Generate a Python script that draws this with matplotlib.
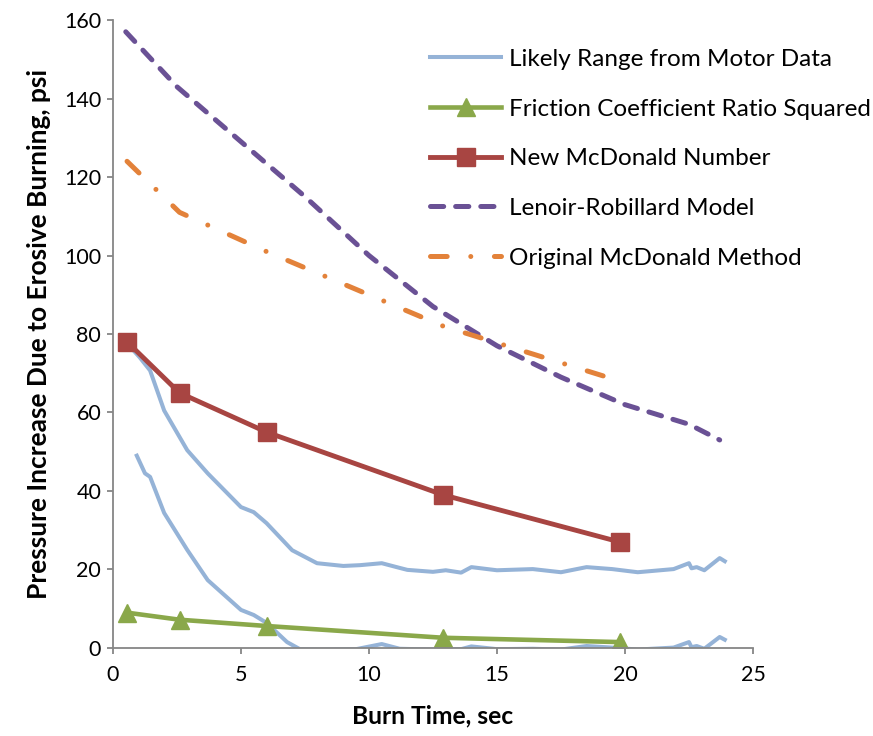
import matplotlib
matplotlib.use("Agg")
import matplotlib.pyplot as plt

plt.rcParams['font.family'] = ['Lato', 'DejaVu Sans']
plt.rcParams['lines.scale_dashes'] = False

# Likely range from motor data (upper and lower bounds)
upper_t = [0.5, 1.05, 1.45, 2.0, 2.9, 3.7, 5.0, 5.5, 6.0, 7.0, 7.97, 9.0, 9.65, 10.5, 11.2,
           11.5, 12.5, 13.0, 13.6, 14.0, 15.0, 16.4, 17.5, 18.5, 19.5, 20.5, 21.9,
           22.5, 22.6, 22.8, 23.1, 23.7, 23.9]
upper_p = [78, 74, 70.7, 60.5, 50.4, 44.5, 35.9, 34.6, 31.8, 24.9, 21.6, 20.9, 21.1, 21.6, 20.4,
           19.9, 19.4, 19.8, 19.2, 20.6, 19.8, 20.1, 19.3, 20.6, 20.1, 19.3, 20.1,
           21.6, 20.3, 20.6, 19.8, 22.9, 22.1]
lower_t = [0.93, 1.25, 1.45, 2.0, 2.9, 3.7, 5.0, 5.5, 6.0, 6.8, 7.3, 8.0, 9.5, 10.5, 11.2,
           12.5, 13.6, 14.0, 15.0, 16.4, 17.5, 18.5, 19.5, 20.5, 21.9, 22.5, 22.6,
           22.8, 23.1, 23.7, 23.9]
lower_p = [49, 44.5, 43.6, 34.4, 25, 17.3, 9.7, 8.4, 6.4, 1.5, -0.3, -0.4, -0.3, 1.0, -0.2,
           -0.4, -0.3, 0.4, -0.3, -0.2, -0.4, 0.5, 0.1, -0.4, 0.1, 1.5, 0.2,
           0.5, -0.2, 2.8, 2.1]

# Model points
model_t = [0.55, 2.6, 6.0, 12.9, 19.8]
friction_p = [9.0, 7.2, 5.6, 2.6, 1.5]
new_mcd_p = [78, 65, 55, 39, 27]
orig_mcd_p = [124, 111, 101, 82, 68]

lenoir_t = [0.5, 2.5, 5, 7.5, 10, 12.5, 15, 17.5, 20, 22.5, 23.7]
lenoir_p = [157, 143, 129, 115, 100, 87, 77, 69, 62, 57, 53]

blue = '#95B3D7'
green = '#8AA84A'
red = '#A84542'
purple = '#6A5195'
orange = '#E3823A'

fig = plt.figure(figsize=(8.73, 7.36), dpi=100)
ax = fig.add_axes([0.1294, 0.1196, 0.7331, 0.8532])

ax.plot(upper_t, upper_p, color=blue, lw=2.9, solid_joinstyle='round',
        label='Likely Range from Motor Data')
ax.plot(lower_t, lower_p, color=blue, lw=2.9, solid_joinstyle='round')
ax.plot(model_t, friction_p, color=green, lw=3.3, marker='^', markersize=13,
        label='Friction Coefficient Ratio Squared')
ax.plot(model_t, new_mcd_p, color=red, lw=3.5, marker='s', markersize=13,
        label='New McDonald Number')
ax.plot(lenoir_t, lenoir_p, color=purple, lw=3.6, dashes=(9.5, 8.6),
        dash_capstyle='round', label='Lenoir-Robillard Model')
ax.plot(model_t, orig_mcd_p, color=orange, lw=3.6, dashes=(12, 17, 0.01, 17),
        dash_capstyle='round', label='Original McDonald Method')

ax.set_xlim(0, 25)
ax.set_ylim(0, 160)
ax.set_xticks([0, 5, 10, 15, 20, 25])
ax.set_yticks(range(0, 161, 20))
for s in ['top', 'right']:
    ax.spines[s].set_visible(False)
for s in ['left', 'bottom']:
    ax.spines[s].set_color('#868686')
    ax.spines[s].set_linewidth(1.3)
ax.tick_params(direction='out', length=4.5, width=1.3, color='#868686',
               labelsize=15.5, labelcolor='black')
ax.tick_params(axis='x', pad=8)
ax.tick_params(axis='y', pad=4)

ax.set_xlabel('Burn Time, sec', fontsize=17.7, fontweight='bold', labelpad=14)
ax.set_ylabel('Pressure Increase Due to Erosive Burning, psi', fontsize=19,
              fontweight='bold', labelpad=9)

ax.legend(loc='upper left', bbox_to_anchor=(0.495, 0.954), frameon=False,
          fontsize=17.5, handlelength=2.95, labelspacing=1.18, borderpad=0,
          borderaxespad=0, handletextpad=0.3)

fig.savefig('out.png', dpi=100)
